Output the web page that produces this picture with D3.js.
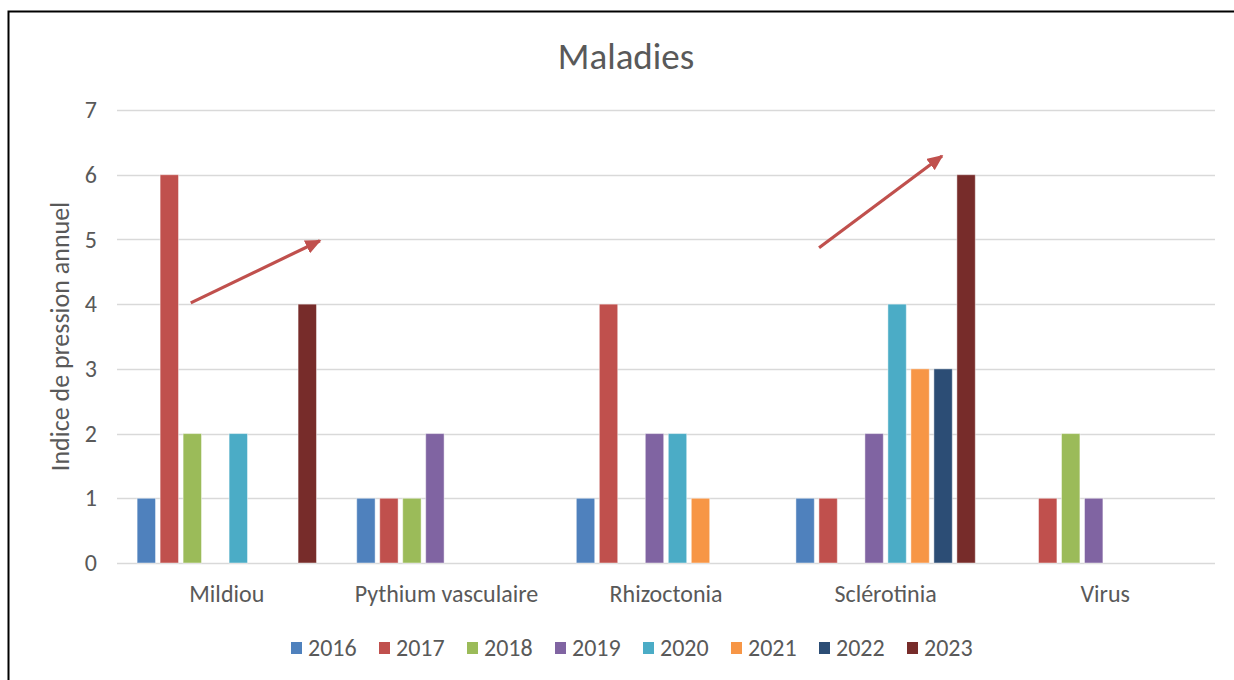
<!DOCTYPE html>
<html lang="fr">
<head>
    <meta charset="UTF-8">
    <title>Maladies</title>
    <script src="https://cdn.jsdelivr.net/npm/d3@7"></script>
    <style>
        html, body {
            margin: 0;
            padding: 0;
            background: #ffffff;
            overflow: hidden;
        }
        text {
            font-family: Carlito, Lato, sans-serif;
            fill: #595959;
        }
    </style>
</head>
<body>
<script>
    // données
    const categories = ['Mildiou', 'Pythium vasculaire', 'Rhizoctonia', 'Sclérotinia', 'Virus'];
    const years = ['2016', '2017', '2018', '2019', '2020', '2021', '2022', '2023'];
    const colors = ['#4f81bd', '#c0504d', '#9bbb59', '#8064a2', '#4bacc6', '#f79646', '#2c4d75', '#772c2a'];
    // valeurs par année, dans l'ordre des catégories
    const values = {
        '2016': [1, 1, 1, 1, 0],
        '2017': [6, 1, 4, 1, 1],
        '2018': [2, 1, 0, 0, 2],
        '2019': [0, 2, 2, 2, 1],
        '2020': [2, 0, 2, 4, 0],
        '2021': [0, 0, 1, 3, 0],
        '2022': [0, 0, 0, 3, 0],
        '2023': [4, 0, 0, 6, 0]
    };
    const yTicks = [0, 1, 2, 3, 4, 5, 6, 7];
    // flèches : catégorie, position relative dans la bande, valeur
    const arrows = [
        {from: ['Mildiou', 0.336, 4.02], to: ['Mildiou', 0.924, 4.98]},
        {from: ['Sclérotinia', 0.197, 4.87], to: ['Sclérotinia', 0.757, 6.29]}
    ];

    const width = 1234;
    const height = 680;
    const margin = {top: 110, right: 19, bottom: 117, left: 117};

    const svg = d3.select('body')
        .append('svg')
        .attr('width', width)
        .attr('height', height);

    // cadre
    svg.append('path')
        .attr('d', `M8.5,${height + 2}V11.5H${width + 2}`)
        .attr('fill', 'none')
        .attr('stroke', '#000')
        .attr('stroke-width', 2);

    const x0 = d3.scaleBand()
        .domain(categories)
        .range([margin.left, width - margin.right]);

    const x1 = d3.scaleBand()
        .domain(years)
        .range([0, x0.bandwidth()])
        .paddingInner(0.2)
        .paddingOuter(0.875);

    const y = d3.scaleLinear()
        .domain([0, 7])
        .range([height - margin.bottom, margin.top]);

    // titre
    svg.append('text')
        .attr('x', 626)
        .attr('y', 69)
        .attr('text-anchor', 'middle')
        .style('font-size', '37px')
        .text('Maladies');

    // grille
    svg.append('g')
        .selectAll('line')
        .data(yTicks)
        .enter().append('line')
        .attr('x1', margin.left)
        .attr('x2', width - margin.right)
        .attr('y1', d => Math.round(y(d)) + 0.5)
        .attr('y2', d => Math.round(y(d)) + 0.5)
        .attr('stroke', '#d9d9d9')
        .attr('stroke-width', 1.3);

    // axe y
    const yAxis = svg.append('g')
        .attr('transform', `translate(${margin.left},0)`)
        .call(d3.axisLeft(y).tickValues(yTicks).tickFormat(d3.format('d')).tickSize(0).tickPadding(20));
    yAxis.select('.domain').remove();
    yAxis.selectAll('text')
        .style('font-size', '24px')
        .attr('fill', '#595959');

    // axe x
    const xAxis = svg.append('g')
        .attr('transform', `translate(0,${height - margin.bottom})`)
        .call(d3.axisBottom(x0).tickSize(0).tickPadding(22));
    xAxis.select('.domain').remove();
    xAxis.selectAll('text')
        .style('font-size', '24px')
        .attr('fill', '#595959');

    // titre axe y
    svg.append('text')
        .attr('transform', `translate(69,${(y(0) + y(7)) / 2}) rotate(-90)`)
        .attr('text-anchor', 'middle')
        .style('font-size', '26px')
        .text('Indice de pression annuel');

    // barres
    const groups = svg.append('g')
        .selectAll('g')
        .data(years)
        .enter().append('g')
        .attr('fill', (d, i) => colors[i]);

    groups.selectAll('rect')
        .data(yr => categories.map((c, j) => ({cat: c, year: yr, v: values[yr][j]})).filter(d => d.v > 0))
        .enter().append('rect')
        .attr('x', d => x0(d.cat) + x1(d.year))
        .attr('width', x1.bandwidth())
        .attr('y', d => y(d.v))
        .attr('height', d => y(0) - y(d.v))
        .attr('stroke', '#ffffff')
        .attr('stroke-opacity', 0.45)
        .attr('stroke-width', 1);

    // flèches
    svg.append('defs').append('marker')
        .attr('id', 'head')
        .attr('viewBox', '0 0 10 10')
        .attr('refX', 9)
        .attr('refY', 5)
        .attr('markerWidth', 5)
        .attr('markerHeight', 4.4)
        .attr('orient', 'auto')
        .attr('preserveAspectRatio', 'none')
        .append('path')
        .attr('d', 'M0,0L10,5L0,10Z')
        .attr('fill', '#c0504d');

    const px = p => [x0(p[0]) + p[1] * x0.bandwidth(), y(p[2])];
    svg.append('g')
        .selectAll('line')
        .data(arrows)
        .enter().append('line')
        .attr('x1', d => px(d.from)[0])
        .attr('y1', d => px(d.from)[1])
        .attr('x2', d => px(d.to)[0])
        .attr('y2', d => px(d.to)[1])
        .attr('stroke', '#c0504d')
        .attr('stroke-width', 3.2)
        .attr('marker-end', 'url(#head)');

    // légende
    const legend = svg.append('g')
        .selectAll('g')
        .data(years)
        .enter().append('g')
        .attr('transform', (d, i) => `translate(${291 + i * 88},642)`);

    legend.append('rect')
        .attr('width', 11)
        .attr('height', 12)
        .attr('fill', (d, i) => colors[i]);

    legend.append('text')
        .attr('x', 17)
        .attr('y', 13.5)
        .style('font-size', '24px')
        .text(d => d);
</script>
</body>
</html>
